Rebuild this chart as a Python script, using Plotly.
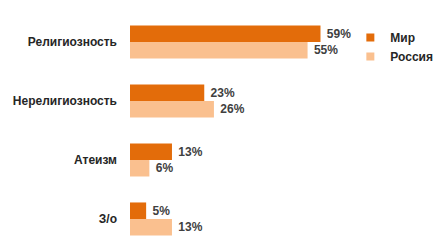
import plotly.graph_objects as go

categories = ["Религиозность", "Нерелигиозность", "Атеизм", "З/о"]
world = [59, 23, 13, 5]
russia = [55, 26, 6, 13]
series_names = ["Мир", "Россия"]
colors = ["#E36C0A", "#FAC08F"]

fig = go.Figure()
for name, vals, col in zip(series_names, [world, russia], colors):
    fig.add_trace(go.Bar(
        y=categories, x=vals, name=name, orientation="h",
        marker=dict(color=col, line=dict(width=0)),
        text=[f"{v}%" for v in vals],
        texttemplate=" %{text}",
        textposition="outside",
        cliponaxis=False,
        showlegend=False,
        textfont=dict(family="Liberation Sans", size=12, color="#404040", weight="bold"),
    ))
for name, col in zip(series_names, colors):
    fig.add_trace(go.Scatter(
        x=[None], y=[None], mode="markers", name=name,
        marker=dict(symbol="square", size=8, color=col),
    ))

fig.update_layout(
    width=440, height=247,
    margin=dict(l=130, r=84, t=10, b=0),
    barmode="group",
    bargap=0.44,
    bargroupgap=0,
    plot_bgcolor="white", paper_bgcolor="white",
    showlegend=True,
    legend=dict(
        x=0.975, y=0.945, xanchor="left", yanchor="top",
        font=dict(family="Liberation Sans", size=12, color="#262626", weight="bold"),
        tracegroupgap=0, bgcolor="rgba(0,0,0,0)", itemwidth=30,
    ),
    xaxis=dict(range=[0, 70], visible=False, fixedrange=True),
    yaxis=dict(
        range=[3.475, -0.542], showgrid=False, zeroline=False, showline=False,
        ticks="", ticklabelstandoff=12,
        tickfont=dict(family="Liberation Sans", size=12, color="#262626", weight="bold"),
    ),
)

fig.write_html("out.html")
